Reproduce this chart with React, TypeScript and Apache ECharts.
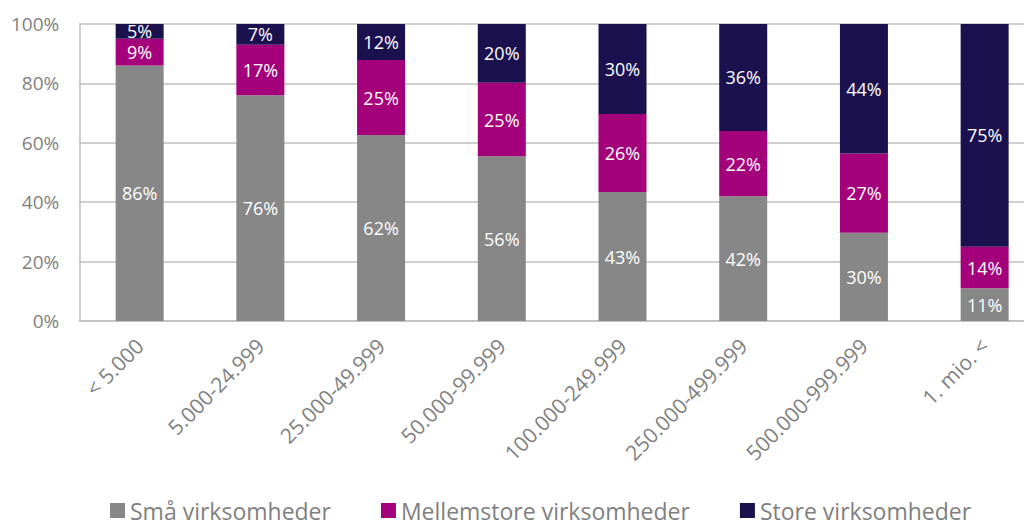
import React, { useEffect, useRef } from "react";
import * as echarts from "echarts";

const categories = ["< 5.000", "5.000-24.999", "25.000-49.999", "50.000-99.999", "100.000-249.999", "250.000-499.999", "500.000-999.999", "1. mio. <"];
const small = [86, 76, 62, 56, 43, 42, 30, 11];
const medium = [9, 17, 25, 25, 26, 22, 27, 14];
const large = [5, 7, 12, 20, 30, 36, 44, 75];
const seriesNames = ["Små virksomheder", "Mellemstore virksomheder", "Store virksomheder"];
const colors = ["#878787", "#A5007B", "#1B114F"];
const yTicks = [0, 20, 40, 60, 80, 100];

const FONT = "'Open Sans', sans-serif";

export default function App() {
  const ref = useRef<HTMLDivElement>(null);
  useEffect(() => {
    if (!ref.current) return;
    const chart = echarts.init(ref.current, null, { renderer: "svg" });
    const raw = [small, medium, large];
    // percent-stacked: each column normalised to 100%, labels show the rounded shares
    const totals = categories.map((_, j) => raw.reduce((s, arr) => s + arr[j], 0));
    chart.setOption({
      animation: false,
      textStyle: { fontFamily: FONT },
      grid: { left: 70, right: 3, top: 16, bottom: 206, containLabel: false },
      legend: {
        bottom: 0,
        left: 97,
        itemWidth: 15,
        itemHeight: 15,
        itemGap: 50,
        icon: "rect",
        textStyle: { fontSize: 23, color: "#7f7f7f", fontFamily: FONT },
        data: seriesNames,
      },
      xAxis: {
        type: "category",
        data: categories,
        axisLine: { lineStyle: { color: "#bfbfbf", width: 1.5 } },
        axisTick: { show: false },
        axisLabel: { rotate: 45, fontSize: 21, color: "#7f7f7f", margin: 21, interval: 0 },
      },
      yAxis: {
        type: "value",
        min: 0,
        max: 100,
        interval: 20,
        axisLine: { show: true, lineStyle: { color: "#bfbfbf", width: 1.5 } },
        axisTick: { show: false },
        splitLine: { lineStyle: { color: "#bfbfbf", width: 1.5 } },
        axisLabel: {
          fontSize: 19,
          color: "#7f7f7f",
          margin: 20,
          formatter: (v: number) => (yTicks.includes(v) ? v + "%" : ""),
        },
      },
      series: seriesNames.map((name, i) => ({
        name,
        type: "bar",
        stack: "total",
        barWidth: 48,
        itemStyle: { color: colors[i] },
        label: {
          show: true,
          position: "inside",
          color: "#ffffff",
          fontSize: 18,
          formatter: (p: any) => raw[i][p.dataIndex] + "%",
        },
        data: raw[i].map((v, j) => (v / totals[j]) * 100),
      })),
    });
    return () => chart.dispose();
  }, []);
  return (
    <div style={{ width: 1016, height: 519, overflow: "hidden" }}>
      <div ref={ref} style={{ width: 1040, height: 519 }} />
    </div>
  );
}
